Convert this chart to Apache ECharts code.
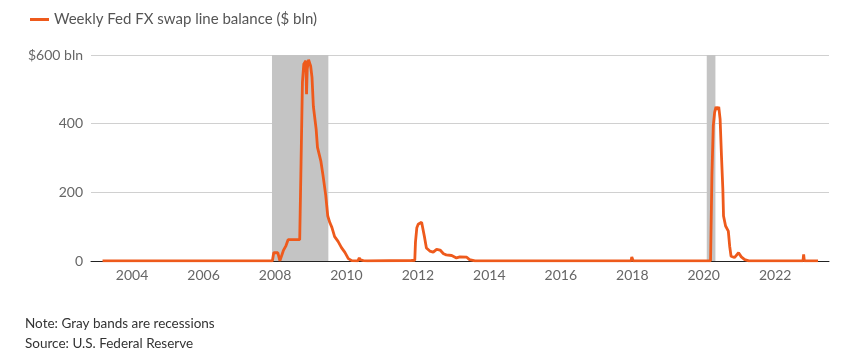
<!DOCTYPE html>
<html>
<head>
<meta charset="utf-8">
<script src="https://cdn.jsdelivr.net/npm/echarts@6/dist/echarts.min.js"></script>
<style>
html,body{margin:0;padding:0;background:#fff;}
#chart{width:849px;height:359px;}
</style>
</head>
<body>
<div id="chart"></div>
<script>
// ---- Data ----
const seriesName = 'Weekly Fed FX swap line balance ($ bln)';
const dates = [
"2003-03-05","2007-12-05","2007-12-19","2008-01-30","2008-02-20","2008-03-05","2008-03-26","2008-04-23",
"2008-05-14","2008-06-25","2008-08-20","2008-09-10","2008-09-17","2008-09-24","2008-10-08","2008-10-22",
"2008-11-12","2008-11-19","2008-11-26","2008-12-10","2008-12-24","2008-12-31","2009-01-14","2009-01-28",
"2009-02-25","2009-03-11","2009-03-25","2009-04-15","2009-05-06","2009-06-03","2009-06-24","2009-07-15",
"2009-08-05","2009-09-02","2009-10-07","2009-11-11","2009-12-16","2010-01-20","2010-02-24","2010-04-28",
"2010-05-12","2010-05-26","2010-06-23","2010-08-04","2011-10-26","2011-11-30","2011-12-07","2011-12-21",
"2012-01-04","2012-02-08","2012-02-22","2012-03-07","2012-03-28","2012-05-02","2012-06-06","2012-07-11",
"2012-08-15","2012-09-19","2012-10-17","2012-12-12","2013-01-30","2013-03-06","2013-05-15","2013-06-12",
"2013-08-07","2016-09-21","2016-09-28","2016-10-05","2016-12-14","2016-12-21","2016-12-28","2017-06-28",
"2017-07-05","2017-07-12","2017-09-20","2017-09-27","2017-10-04","2017-12-20","2017-12-27","2018-01-10",
"2018-03-28","2018-04-04","2018-04-11","2018-12-12","2018-12-19","2018-12-26","2019-12-18","2019-12-25",
"2020-01-08","2020-03-11","2020-03-18","2020-03-25","2020-04-08","2020-04-22","2020-05-06","2020-05-20",
"2020-06-03","2020-06-17","2020-07-01","2020-07-15","2020-07-22","2020-08-12","2020-09-09","2020-09-23",
"2020-10-07","2020-11-11","2020-12-23","2021-01-20","2021-02-24","2021-04-07","2021-12-22","2021-12-29",
"2022-01-05","2022-10-12","2022-10-19","2022-10-26","2023-03-15"
];
const balances = [
0.2,0.2,24,24,0.5,0.5,30,45,
62,62,62,62,67,290,521,574,
583,486,559,586,574,568,535,450,
385,331,326,290,250,192,131,112,
98,71,57,39,25,7,1,0.3,
9,3,1,0.3,1.5,2,55,97,
107,113,110,72,38,29,26,34,
32,21,18,16,9,12,11,4,
0.5,0.5,4,0.5,0.5,5,0.5,0.5,
3,0.5,0.5,3,0.5,0.5,12,0.5,
0.5,4,0.5,0.5,3,0.5,0.5,3,
0.5,0.5,1,250,394,433,449,441,
449,413,306,209,131,102,87,43,
14,10,24,12,4,0.5,0.5,5,
0.5,0.3,19,0.3,0.3
];
const recessionStarts = ["2007-12-01","2020-02-01"];
const recessionEnds   = ["2009-06-30","2020-04-30"];
const axisStart = "2002-11-07";
const axisEnd = "2023-07-05";
const tickYears = [2004,2006,2008,2010,2012,2014,2016,2018,2020,2022];
const yTicks = [0,200,400,600];
const yTopLabel = '$600 bln';
const noteText = 'Note: Gray bands are recessions';
const sourceText = 'Source: U.S. Federal Reserve';

// ---- helpers ----
function decYear(s){
  const p = s.split('-').map(Number);
  const t = Date.UTC(p[0], p[1]-1, p[2]);
  const a = Date.UTC(p[0],0,1), b = Date.UTC(p[0]+1,0,1);
  return p[0] + (t-a)/(b-a);
}

// ---- Chart ----
const FONT = 'Lato, "Noto Sans", sans-serif';
const chart = echarts.init(document.getElementById('chart'), null, {renderer:'canvas'});
const lineData = dates.map((d,i)=>[decYear(d), balances[i]]);
const bands = recessionStarts.map((s,i)=>[{xAxis:decYear(s)},{xAxis:decYear(recessionEnds[i])}]);

chart.setOption({
  animation:false,
  backgroundColor:'#ffffff',
  textStyle:{fontFamily:FONT},
  legend:{
    left:25, top:7,
    icon:'rect', itemWidth:19, itemHeight:3,
    textStyle:{fontSize:15, color:'#555555', fontFamily:FONT},
    data:[seriesName]
  },
  grid:{left:91, right:20, top:55, bottom:98, containLabel:false},
  xAxis:{
    type:'value',
    min:decYear(axisStart), max:decYear(axisEnd),
    axisLine:{show:true, onZero:false, lineStyle:{color:'#222222', width:1}},
    axisTick:{show:false},
    splitLine:{show:false},
    axisLabel:{
      customValues:tickYears,
      formatter:(v)=>String(Math.round(v)),
      color:'#666666', fontSize:14, margin:7, fontFamily:FONT
    }
  },
  yAxis:{
    type:'value', min:yTicks[0], max:yTicks[yTicks.length-1], interval:200,
    axisLine:{show:false}, axisTick:{show:false},
    splitLine:{lineStyle:{color:'#d0d0d0', width:1}},
    axisLabel:{
      formatter:(v)=> v===yTicks[yTicks.length-1] ? yTopLabel : String(v),
      color:'#666666', fontSize:14, margin:8, fontFamily:FONT
    }
  },
  series:[
    {
      name:'recessions', type:'line', data:[], z:1, silent:true,
      markArea:{silent:true, itemStyle:{color:'#c4c4c4', opacity:1}, data:bands}
    },
    {
      name:seriesName, type:'line', data:lineData, z:5,
      showSymbol:false, symbol:'none',
      lineStyle:{color:'#ee5a1c', width:2.8},
      itemStyle:{color:'#ee5a1c'}
    }
  ],
  graphic:[
    {type:'text', left:25, top:317, style:{text:noteText, fontSize:13.5, fill:'#333333', fontFamily:FONT}},
    {type:'text', left:25, top:337, style:{text:sourceText, fontSize:13.5, fill:'#333333', fontFamily:FONT}}
  ]
});
</script>
</body>
</html>
